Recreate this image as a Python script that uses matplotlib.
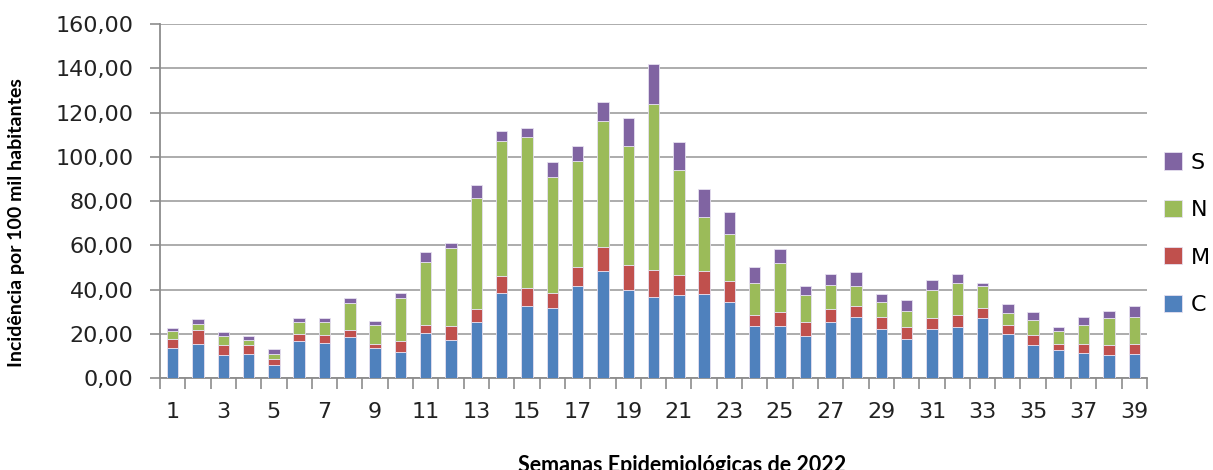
import numpy as np
import matplotlib
matplotlib.use("Agg")
import matplotlib.pyplot as plt
from matplotlib.ticker import FuncFormatter

# Semanas epidemiológicas 1..39
semanas = list(range(1, 40))

# Incidência por faixa
C = [13.6, 15.4, 10.2, 10.8, 5.7, 16.6, 16.0, 18.4, 13.7, 11.9,
     20.2, 17.2, 25.3, 38.4, 32.7, 31.6, 41.4, 48.4, 39.8, 36.8,
     37.4, 38.0, 34.5, 23.5, 23.5, 18.8, 25.3, 27.6, 22.3, 17.7,
     22.3, 22.9, 27.0, 20.0, 14.7, 12.5, 11.3, 10.2, 10.7]
M = [4.0, 6.3, 4.5, 3.9, 2.9, 3.3, 3.4, 3.4, 1.7, 4.7,
     3.9, 6.3, 5.7, 7.7, 8.1, 7.0, 8.6, 10.9, 11.4, 12.2,
     9.2, 10.4, 9.2, 5.1, 6.3, 6.5, 5.7, 5.1, 5.3, 5.2,
     4.7, 5.7, 4.6, 4.1, 4.7, 2.9, 4.1, 4.5, 4.7]
N = [3.6, 2.8, 4.1, 2.5, 2.2, 5.3, 5.8, 12.1, 8.6, 19.6,
     28.3, 35.3, 50.4, 61.2, 68.3, 52.1, 48.1, 56.7, 53.8, 75.0,
     47.4, 24.2, 21.4, 14.5, 22.0, 12.1, 11.0, 8.7, 6.9, 7.5,
     12.8, 14.5, 9.8, 5.3, 7.0, 5.8, 8.7, 12.3, 12.2]
S = [1.2, 2.0, 1.8, 1.8, 2.3, 1.9, 1.9, 2.3, 1.9, 2.2,
     4.7, 2.4, 5.7, 4.2, 4.0, 6.8, 6.9, 8.6, 12.7, 17.9,
     12.7, 12.7, 9.8, 6.9, 6.4, 4.0, 5.2, 6.4, 3.5, 4.7,
     4.5, 4.1, 1.7, 4.0, 3.4, 1.7, 3.5, 3.4, 5.1]

cores = {"C": "#4F81BD", "M": "#C0504D", "N": "#9BBB59", "S": "#8064A2"}

fig = plt.figure(figsize=(12.13, 4.70), dpi=100)
ax = fig.add_axes([0.1319, 0.1957, 0.8137, 0.7532])

x = np.array(semanas)
base = np.zeros(len(x))
barras = {}
for nome, vals in [("C", C), ("M", M), ("N", N), ("S", S)]:
    barras[nome] = ax.bar(x, vals, width=0.45, bottom=base, color=cores[nome],
                          edgecolor="#E6E0F0", linewidth=0.6, zorder=3, label=nome)
    base = base + np.array(vals)

ax.set_xlim(0.5, 39.5)
ax.set_ylim(0, 160)
ax.set_yticks(np.arange(0, 161, 20))
ax.yaxis.set_major_formatter(FuncFormatter(lambda v, p: f"{v:.2f}".replace(".", ",")))
ax.grid(axis="y", color="#A6A6A6", linewidth=1.3, zorder=0)

# rótulos nas semanas ímpares, marcas entre categorias
ax.set_xticks([s for s in semanas if s % 2 == 1])
ax.set_xticklabels([str(s) for s in semanas if s % 2 == 1])
ax.set_xticks(np.arange(0.5, 40, 1), minor=True)
ax.tick_params(axis="x", which="major", length=0, pad=17, labelsize=16, labelcolor="#222222")
ax.tick_params(axis="x", which="minor", length=8, color="#8C8C8C", width=1.2)
ax.tick_params(axis="y", length=7, color="#8C8C8C", width=1.2, pad=12,
               labelsize=16, labelcolor="#222222")

for lado in ["top", "right"]:
    ax.spines[lado].set_visible(False)
for lado in ["left", "bottom"]:
    ax.spines[lado].set_color("#8C8C8C")
    ax.spines[lado].set_linewidth(1.3)

ax.set_ylabel("Incidência por 100 mil habitantes", fontfamily="Lato",
              fontweight="bold", fontsize=14)
ax.yaxis.set_label_coords(-0.137, 0.44)
fig.text(0.562, -0.004, "Semanas Epidemiológicas de 2022", fontfamily="Lato",
         fontweight="bold", fontsize=15.5, ha="center", va="baseline")

h = [barras["S"], barras["N"], barras["M"], barras["C"]]
fig.legend(h, ["S", "N", "M", "C"], loc="center left", bbox_to_anchor=(0.943, 0.503),
           frameon=False, fontsize=16, handlelength=0.82, handleheight=0.82,
           handletextpad=0.4, labelspacing=1.22)

fig.savefig("out.png", dpi=100)
